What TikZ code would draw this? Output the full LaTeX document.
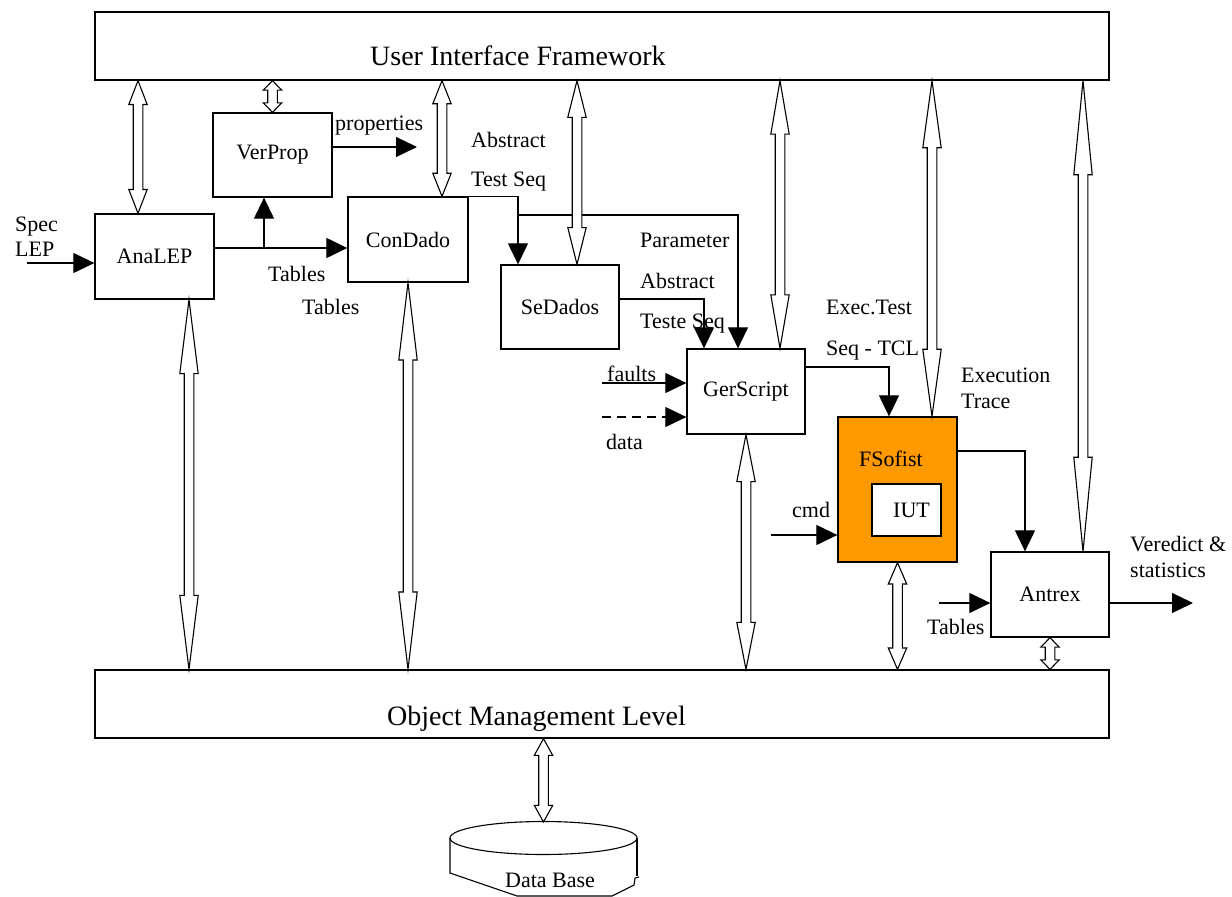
\documentclass[tikz,border=0pt]{standalone}
\usepackage{fontspec}
\setmainfont{Liberation Serif}
\usetikzlibrary{calc, arrows.meta, positioning}
\definecolor{fsorange}{RGB}{255,153,0}

\tikzset{
  blk/.style={draw, line width=1.3pt, inner sep=0pt, font=\fontsize{22}{24}\selectfont},
  lbl/.style={inner sep=0pt, anchor=base west, font=\fontsize{22}{24}\selectfont},
  ttl/.style={inner sep=0pt, anchor=base west, font=\fontsize{28}{30}\selectfont},
  arr/.style={line width=1.2pt, -{Triangle[length=21pt,width=20pt]}},
  dbl/.style={draw, fill=white, line width=1.1pt, to path={
    let \p1=(\tikztostart), \p2=(\tikztotarget),
        \p3=($(\p1)!#1!(\p2)$), \p4=($(\p2)!#1!(\p1)$) in
    (\x1,\y1) -- (\x1+9.2pt,\y3) -- (\x1+4.8pt,\y3) -- (\x1+4.8pt,\y4) -- (\x1+9.2pt,\y4)
    -- (\x1,\y2) -- (\x1-9.2pt,\y4) -- (\x1-4.8pt,\y4) -- (\x1-4.8pt,\y3) -- (\x1-9.2pt,\y3) -- cycle}},
  dbl/.default=0.2
}

\begin{document}
\begin{tikzpicture}[x=1pt, y=-1pt]
\useasboundingbox (0,0) rectangle (1232,897);

% layers
\node[blk, minimum width=1014pt, minimum height=68pt] (uif) at (602,46) {};
\node[ttl] at (370,65) {User Interface Framework};
\node[blk, minimum width=1014pt, minimum height=68pt] (oml) at (602,704) {};
\node[ttl] at (387,725) {Object Management Level};

% tools
\node[blk, minimum width=119pt, minimum height=85pt] (ana) at (154.5,256.5) {AnaLEP};
\node[blk, minimum width=119pt, minimum height=84pt] (verprop) at (272.5,155) {VerProp};
\node[blk, minimum width=120pt, minimum height=85pt] (condado) at (408,239.5) {ConDado};
\node[blk, minimum width=118pt, minimum height=84pt] (sedados) at (560,307) {SeDados};
\node[blk, minimum width=118pt, minimum height=85pt] (gerscript) at (746,391.5) {GerScript};
\node[blk, fill=fsorange, minimum width=119pt, minimum height=145pt] (fsofist) at (897.5,489.5) {};
\node[lbl] (fsname) at (859,466) {FSofist};
\node[blk, fill=white, minimum width=69pt, minimum height=52pt] (iut) at (906.5,510) {};
\node[lbl] (iutname) at (893,517) {IUT};
\node[blk, minimum width=118pt, minimum height=85pt] (antrex) at (1050,594.5) {Antrex};

% data base
\coordinate (dbtop) at (543.5,822);
\draw[line width=1.1pt] (543.5,838) ellipse [x radius=93.5pt, y radius=16.5pt];
\draw[line width=1.1pt] (450,838) -- (450,873) -- (517,896) -- (612,896) -- (634,885)
  -- (635,878) -- (639,877);
\draw[line width=1.1pt] (637,838) -- (637,876);
\node[lbl] (dbname) at (505,887) {Data Base};

% labels
\node[lbl] at (15,231) {Spec};
\node[lbl] at (15,256) {LEP};
\node[lbl] at (335,130) {properties};
\node[lbl] at (268,281) {Tables};
\node[lbl] at (302,314) {Tables};
\node[lbl] at (471,147) {Abstract};
\node[lbl] at (471,186) {Test Seq};
\node[lbl] at (640,247) {Parameter};
\node[lbl] at (640,288) {Abstract};
\node[lbl] at (640,328) {Teste Seq};
\node[lbl] at (607,381) {faults};
\node[lbl] at (606,449) {data};
\node[lbl] at (826,314) {Exec.Test};
\node[lbl] at (826,355) {Seq - TCL};
\node[lbl] at (961,382) {Execution};
\node[lbl] at (961,408) {Trace};
\node[lbl] at (792,517) {cmd};
\node[lbl] at (927,634) {Tables};
\node[lbl] at (1130,551) {Veredict \&};
\node[lbl] at (1130,577) {statistics};

% data flow
\coordinate (specin) at (27,263);
\draw[arr] (specin) -- (specin -| ana.west);
\coordinate (anaout) at ([yshift=8.5pt]ana.east);
\draw[arr] (anaout) -- (anaout -| condado.west);
\coordinate (tblsplit) at (264,248);
\draw[arr] (tblsplit) -- (tblsplit |- verprop.south);
\coordinate (propout) at (417,147);
\draw[arr] (propout -| verprop.east) -- (propout);
\coordinate (cdturn) at (518,215);
\draw[arr] (condado.north east) -| (cdturn |- sedados.north);
\draw[arr] (cdturn) -| ([xshift=-8pt]gerscript.north);
\draw[arr] ([yshift=8pt]sedados.east) -| ([xshift=-42pt]gerscript.north);
\coordinate (fltin) at (602,383);
\draw[arr] (fltin) -- (fltin -| gerscript.west);
\coordinate (datin) at (602,417);
\draw[arr, dash pattern=on 9pt off 6pt] (datin) -- (datin -| gerscript.west);
\draw[arr] ([yshift=24.5pt]gerscript.east) -| ([xshift=-8.5pt]fsofist.north);
\coordinate (cmdin) at (771,535);
\draw[arr] (cmdin) -- (cmdin -| fsofist.west);
\draw[arr] ([yshift=38.5pt]fsofist.east) -| ([xshift=-25pt]antrex.north);
\coordinate (tabin) at (939,603);
\draw[arr] (tabin) -- (tabin -| antrex.west);
\coordinate (verout) at (1193,603);
\draw[arr] (verout -| antrex.east) -- (verout);

% links to the layers
\coordinate (u1) at ([xshift=-16.5pt]ana.north);
\coordinate (u3) at ([xshift=34pt]condado.north);
\coordinate (u4) at ([xshift=17pt]sedados.north);
\coordinate (u5) at ([xshift=34pt]gerscript.north);
\coordinate (u6) at ([xshift=34.5pt]fsofist.north);
\coordinate (u7) at ([xshift=33pt]antrex.north);
\coordinate (o1) at ([xshift=34.5pt]ana.south);
\draw[dbl=0.18] (u1 |- uif.south) to (u1);
\draw[dbl=0.3] (verprop.north |- uif.south) to (verprop.north);
\draw[dbl] (u3 |- uif.south) to (u3);
\draw[dbl] (u4 |- uif.south) to (u4);
\draw[dbl] (u5 |- uif.south) to (u5);
\draw[dbl] (u6 |- uif.south) to (u6);
\draw[dbl] (u7 |- uif.south) to (u7);
\draw[dbl] (o1) to (o1 |- oml.north);
\draw[dbl] (condado.south) to (condado.south |- oml.north);
\draw[dbl] (gerscript.south) to (gerscript.south |- oml.north);
\draw[dbl] (fsofist.south) to (fsofist.south |- oml.north);
\draw[dbl=0.3] (antrex.south) to (antrex.south |- oml.north);
\draw[dbl] (dbtop |- oml.south) to (dbtop);
\end{tikzpicture}
\end{document}
